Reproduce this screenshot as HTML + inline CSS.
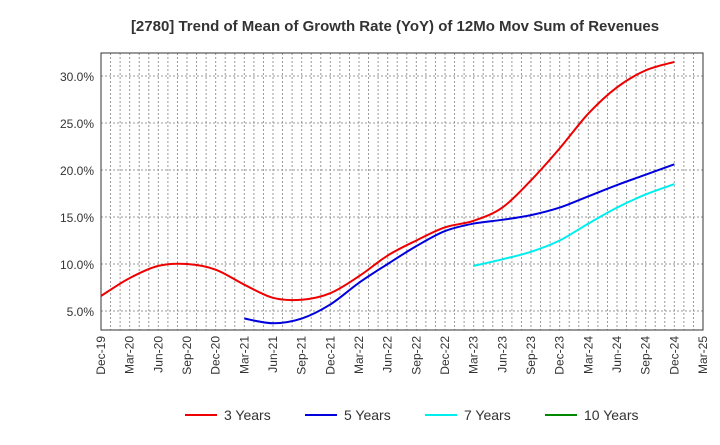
<!DOCTYPE html>
<html><head><meta charset="utf-8"><style>
body{margin:0;background:#fff;font-family:"Liberation Sans",sans-serif}
svg text{font-family:"Liberation Sans",sans-serif}
</style></head><body>
<svg id="c" width="720" height="440">
<text x="395" y="31" text-anchor="middle" font-size="15" font-weight="bold" fill="#333">[2780]  Trend of Mean of Growth Rate (YoY) of 12Mo Mov Sum of Revenues</text>
<g id="grid"></g><g id="axes"></g><g id="series"></g>
<g font-size="14" fill="#333">
<g><line x1="185" y1="415" x2="217" y2="415" stroke="#e00" stroke-width="2"/><text x="224" y="420">3 Years</text></g>
<g><line x1="305" y1="415" x2="337" y2="415" stroke="#00d" stroke-width="2"/><text x="344" y="420">5 Years</text></g>
<g><line x1="425" y1="415" x2="457" y2="415" stroke="#0ee" stroke-width="2"/><text x="464" y="420">7 Years</text></g>
<g><line x1="545" y1="415" x2="577" y2="415" stroke="#080" stroke-width="2"/><text x="584" y="420">10 Years</text></g>
</g>
</svg>
<script>
const categories=["Dec-19","Mar-20","Jun-20","Sep-20","Dec-20","Mar-21","Jun-21","Sep-21","Dec-21","Mar-22","Jun-22","Sep-22","Dec-22","Mar-23","Jun-23","Sep-23","Dec-23","Mar-24","Jun-24","Sep-24","Dec-24","Mar-25"];
const yTicks=[5,10,15,20,25,30];
const s3=[6.6,8.5,9.8,10.0,9.4,7.8,6.4,6.2,6.9,8.7,10.9,12.5,13.9,14.6,16.0,18.9,22.3,26.0,28.8,30.6,31.5];
const s5=[null,null,null,null,null,4.2,3.7,4.2,5.7,8.0,10.0,11.9,13.5,14.3,14.7,15.2,16.0,17.2,18.4,19.5,20.6];
const s7=[null,null,null,null,null,null,null,null,null,null,null,null,null,9.8,10.5,11.3,12.5,14.3,16.0,17.4,18.5];
const s10=[];
const L=101,R=703,T=53,B=330,NS='http://www.w3.org/2000/svg';
const x=i=>L+(R-L)*i/(categories.length-1);
const y=v=>311-(v-5)*(311-76)/25;
function el(t,a,p){const e=document.createElementNS(NS,t);for(const k in a)e.setAttribute(k,a[k]);document.getElementById(p).appendChild(e);return e;}
for(let m=1;m<(categories.length-1)*3;m++){const xx=L+(R-L)*m/((categories.length-1)*3);
const g=el('line',{x1:xx,x2:xx,y1:T,y2:B,stroke:'#999','stroke-dasharray':'2,2','stroke-width':1},'grid');

}
yTicks.forEach(v=>{const g=el('line',{x1:L,x2:R,y1:y(v),y2:y(v),stroke:'#999','stroke-dasharray':'2,2'},'grid');


const t=el('text',{x:L-7,y:y(v)+5,'text-anchor':'end','font-size':12,fill:'#333'},'axes');t.textContent=v.toFixed(1)+'%';

});
const fr=el('rect',{x:L,y:T,width:R-L,height:B-T,fill:'none',stroke:'#333'},'axes');


categories.forEach((c,i)=>{const t=el('text',{transform:`translate(${x(i)+4},${B+6}) rotate(-90)`,'text-anchor':'end','font-size':12,fill:'#333'},'axes');t.textContent=c;

});
function path(arr){const p=[];arr.forEach((v,i)=>{if(v!=null)p.push([x(i),y(v)]);});if(p.length<2)return'';
let d=`M${p[0][0]},${p[0][1]}`;for(let i=0;i<p.length-1;i++){const p0=p[i-1]||p[i],p1=p[i],p2=p[i+1],p3=p[i+2]||p2;
d+=` C${p1[0]+(p2[0]-p0[0])/6},${p1[1]+(p2[1]-p0[1])/6} ${p2[0]-(p3[0]-p1[0])/6},${p2[1]-(p3[1]-p1[1])/6} ${p2[0]},${p2[1]}`;}return d;}
[[s3,'#e00','series-3-years'],[s5,'#00d','series-5-years'],[s7,'#0ee','series-7-years'],[s10,'#080','series-10-years']].forEach(([a,c,n])=>{
const p=el('path',{d:path(a),fill:'none',stroke:c,'stroke-width':2},'series');

});
</script>
</body></html>
